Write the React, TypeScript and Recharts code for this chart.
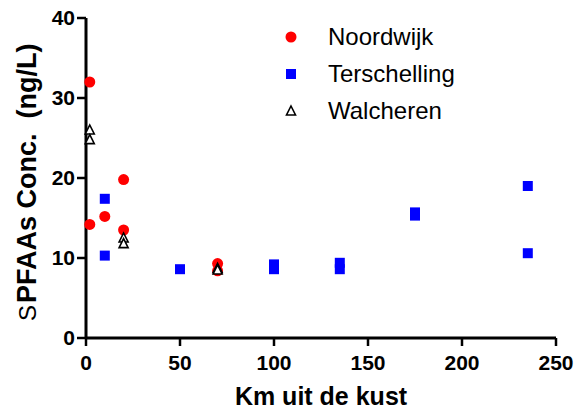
import React from "react";
import { ScatterChart, Scatter, XAxis, YAxis, Label } from "recharts";

// distance from the coast (km) and summed PFAA concentration (ng/L) per station
const noordwijkKm = [2, 2, 10, 20, 20, 70, 70];
const noordwijkConc = [32.0, 14.2, 15.2, 19.8, 13.5, 9.3, 8.4];

const terschellingKm = [10, 10, 50, 100, 100, 135, 135, 175, 175, 235, 235];
const terschellingConc = [17.4, 10.3, 8.6, 9.2, 8.6, 9.4, 8.6, 15.7, 15.3, 19.0, 10.6];

const walcherenKm = [2, 2, 20, 20, 70, 70];
const walcherenConc = [26.0, 24.8, 12.5, 11.8, 8.7, 8.5];

const xTicks = [0, 50, 100, 150, 200, 250];
const yTicks = [0, 10, 20, 30, 40];

const seriesNames = ["Noordwijk", "Terschelling", "Walcheren"];

const FONT = "'Liberation Sans', Arial, Helvetica, sans-serif";

function toPoints(xs: number[], ys: number[]) {
  return xs.map((x, i) => ({ x, y: ys[i] }));
}

const redDot = (p: any) => <circle cx={p.cx} cy={p.cy} r={5.5} fill="#ff0000" />;
const blueSquare = (p: any) => (
  <rect x={p.cx - 5} y={p.cy - 5} width={10} height={10} fill="#0000ff" />
);
const openTriangle = (p: any) => (
  <path
    d={`M${p.cx},${p.cy - 5} L${p.cx + 4.5},${p.cy + 4} L${p.cx - 4.5},${p.cy + 4} Z`}
    fill="#fff"
    stroke="#000"
    strokeWidth={1.6}
  />
);

function YTitle() {
  return (
    <text
      transform="translate(36,321) rotate(-90)"
      fontFamily={FONT}
      fill="#000"
      style={{ whiteSpace: "pre" }}
    >
      <tspan fontSize={24}>S</tspan>
      <tspan fontSize={27} fontWeight="bold" dx={2}>PFAAs Conc.</tspan>
      <tspan fontSize={27} fontWeight="bold" dx={15}>(ng/L)</tspan>
    </text>
  );
}

function LegendBox() {
  const marks = [
    <circle cx={8} cy={8} r={5.5} fill="#ff0000" />,
    <rect x={3} y={3} width={10} height={10} fill="#0000ff" />,
    <path d="M8,3 L12.5,12 L3.5,12 Z" fill="#fff" stroke="#000" strokeWidth={1.6} />,
  ];
  return (
    <div style={{ position: "absolute", left: 283, top: 18, fontFamily: FONT }}>
      {seriesNames.map((name, i) => (
        <div key={name} style={{ display: "flex", alignItems: "center", height: 37 }}>
          <svg width={16} height={16}>{marks[i]}</svg>
          <span style={{ marginLeft: 29, fontSize: 24, color: "#000" }}>{name}</span>
        </div>
      ))}
    </div>
  );
}

export default function App() {
  const tickStyle = { fontSize: 21, fontWeight: "bold", fill: "#000", fontFamily: FONT };
  return (
    <div style={{ position: "absolute", left: 0, top: 0, width: 576, height: 410, background: "#fff" }}>
      <ScatterChart width={576} height={410} margin={{ top: 18, right: 20, bottom: 0, left: 0 }}>
        <XAxis
          type="number"
          dataKey="x"
          domain={[0, 250]}
          ticks={xTicks}
          height={72}
          tickSize={8}
          tickMargin={9}
          tick={tickStyle}
          axisLine={{ stroke: "#000", strokeWidth: 3 }}
          tickLine={{ stroke: "#000", strokeWidth: 2.5 }}
          interval={0}
        >
          <Label
            value="Km uit de kust"
            position="insideBottom"
            offset={5}
            style={{ fontSize: 25, fontWeight: "bold", fill: "#000", fontFamily: FONT }}
          />
        </XAxis>
        <YAxis
          type="number"
          dataKey="y"
          domain={[0, 40]}
          ticks={yTicks}
          width={86}
          tickSize={9}
          tickMargin={2}
          tick={tickStyle}
          axisLine={{ stroke: "#000", strokeWidth: 3 }}
          tickLine={{ stroke: "#000", strokeWidth: 2.5 }}
          interval={0}
        >
          <Label content={() => <YTitle />} />
        </YAxis>
        <Scatter
          name={seriesNames[0]}
          data={toPoints(noordwijkKm, noordwijkConc)}
          shape={redDot}
          isAnimationActive={false}
        />
        <Scatter
          name={seriesNames[1]}
          data={toPoints(terschellingKm, terschellingConc)}
          shape={blueSquare}
          isAnimationActive={false}
        />
        <Scatter
          name={seriesNames[2]}
          data={toPoints(walcherenKm, walcherenConc)}
          shape={openTriangle}
          isAnimationActive={false}
        />
      </ScatterChart>
      <LegendBox />
    </div>
  );
}
